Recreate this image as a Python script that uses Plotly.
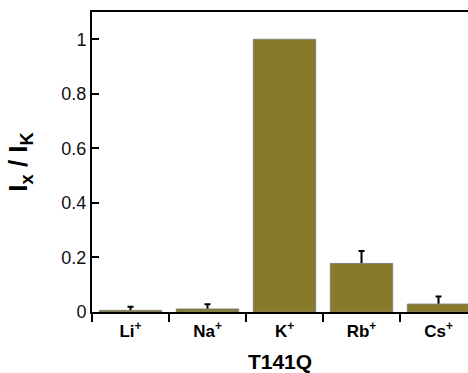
import plotly.graph_objects as go

categories = ["Li<sup>+</sup>", "Na<sup>+</sup>", "K<sup>+</sup>", "Rb<sup>+</sup>", "Cs<sup>+</sup>"]
values = [0.006, 0.011, 1.0, 0.178, 0.029]
errors = [0.013, 0.017, None, 0.046, 0.028]
y_ticks = [0, 0.2, 0.4, 0.6, 0.8, 1]
y_tick_text = ["0", "0.2", "0.4", "0.6", "0.8", "1"]

bar_color = "rgb(135,123,42)"

# one-sided (upward) error bars: an invisible bar trace carries them, the real bars hide the lower end
err_tops = [None if e is None else v + e for v, e in zip(values, errors)]
err_down = [None if e is None else e + 0.008 for e in errors]

fig = go.Figure()
fig.add_trace(go.Bar(
    x=categories, y=err_tops, width=0.81,
    marker=dict(color="rgba(0,0,0,0)", line=dict(width=0)),
    error_y=dict(type="data", symmetric=False, array=[0] * len(errors),
                 arrayminus=err_down, color="black", thickness=2, width=3),
    hoverinfo="skip",
))
fig.add_trace(go.Bar(
    x=categories, y=values, width=0.81,
    marker=dict(color=bar_color, line=dict(color="rgb(130,130,120)", width=1)),
))

fig.update_layout(
    width=468,
    height=373,
    margin=dict(l=92, r=0, t=12, b=61),
    paper_bgcolor="white",
    plot_bgcolor="white",
    showlegend=False,
    barmode="overlay",
    font=dict(family="Liberation Sans, Arial, sans-serif", color="black"),
)

fig.update_xaxes(
    range=[-0.5, 4.383], automargin=False,
    showline=True, linecolor="black", linewidth=2, mirror=True,
    ticks="outside", tickson="boundaries", ticklen=8, tickwidth=2, tickcolor="black",
    tickfont=dict(size=17, family="Liberation Sans, Arial", weight="bold"),
    ticklabelstandoff=3,
    title=dict(text="<b>T141Q</b>", font=dict(size=21), standoff=17),
    showgrid=False, zeroline=False,
)

fig.update_yaxes(
    range=[0, 1.1], automargin=False,
    tickvals=y_ticks, ticktext=y_tick_text,
    showline=True, linecolor="black", linewidth=2, mirror=False,
    ticks="inside", ticklen=7, tickwidth=2, tickcolor="black",
    tickfont=dict(size=18, color="#111"),
    title=dict(text="<b>I<sub>x</sub> / I<sub>K</sub></b>", font=dict(size=26), standoff=26),
    showgrid=False, zeroline=False,
)

fig.write_html("out.html", config={"displayModeBar": False},
               post_script="document.body.style.margin='0';")
